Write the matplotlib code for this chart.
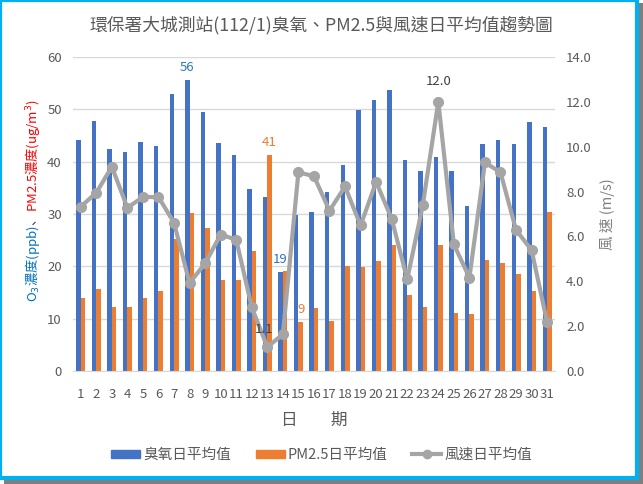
import matplotlib
matplotlib.use('Agg')
import matplotlib.pyplot as plt
from matplotlib.patches import Rectangle
from matplotlib.lines import Line2D
import numpy as np

plt.rcParams['font.family'] = ['Noto Sans CJK TC', 'DejaVu Sans']

days = list(range(1, 32))
o3 = [44.1, 47.7, 42.4, 41.8, 43.8, 43.1, 53.0, 55.6, 49.5, 43.6,
      41.2, 34.7, 33.2, 18.9, 29.8, 30.3, 34.2, 39.4, 49.8, 51.8,
      53.7, 40.3, 38.2, 41.0, 38.3, 31.6, 43.4, 44.2, 43.3, 47.6, 46.7]
pm25 = [14.0, 15.6, 12.3, 12.2, 14.0, 15.2, 25.3, 30.2, 27.4, 17.3,
        17.3, 22.9, 41.2, 19.2, 9.3, 12.1, 9.5, 20.0, 19.8, 21.1,
        24.1, 14.6, 12.3, 24.0, 11.1, 10.9, 21.3, 20.7, 18.5, 15.3, 30.3]
wind = [7.33, 7.95, 9.11, 7.28, 7.76, 7.76, 6.61, 3.92, 4.80, 6.08,
        5.86, 2.84, 1.07, 1.63, 8.86, 8.69, 7.15, 8.23, 6.49, 8.43,
        6.79, 4.09, 7.39, 12.01, 5.65, 4.16, 9.30, 8.86, 6.29, 5.39, 2.17]

BLUE = '#4472C4'
ORANGE = '#ED7D31'
GRAY = '#A5A5A5'
TXT = '#595959'

fig = plt.figure(figsize=(6.43, 4.84), dpi=100)
fig.patch.set_facecolor('white')

# frame with shadow
fig.patches.append(Rectangle((0.006, 0.0), 0.994, 0.994, transform=fig.transFigure,
                             facecolor='#7F7F7F', edgecolor='none', zorder=0))
fig.patches.append(Rectangle((0.0, 0.012), 0.99, 0.988, transform=fig.transFigure,
                             facecolor='white', edgecolor='#00B0F0', lw=3, zorder=1))

ax = fig.add_axes([0.1135, 0.2335, 0.7495, 0.6485])
ax.set_zorder(2)
ax.patch.set_visible(False)
x = np.array(days)
w = 0.29
ax.bar(x - w / 2, o3, w, color=BLUE, label='臭氧日平均值', zorder=2)
ax.bar(x + w / 2, pm25, w, color=ORANGE, label='PM2.5日平均值', zorder=2)
ax.set_xlim(0.5, 31.5)
ax.set_ylim(0, 60)
ax.set_yticks(range(0, 61, 10))
ax.set_xticks(days)
ax.grid(axis='y', color='#D9D9D9', lw=1, zorder=0)
for s in ['top', 'right', 'left']:
    ax.spines[s].set_visible(False)
ax.spines['bottom'].set_color('#D9D9D9')
ax.tick_params(length=0, labelsize=9.5, colors=TXT, pad=8)
ax.tick_params(axis='x', pad=12)
ax.set_xlabel('日　　期', fontsize=12, color=TXT, labelpad=8)

ax2 = ax.twinx()
ax2.plot(x, wind, color=GRAY, lw=3, marker='o', ms=7, zorder=3, label='風速日平均值')
ax2.set_ylim(0, 14)
ax2.set_yticks(np.arange(0, 14.1, 2))
ax2.set_yticklabels([f'{v:.1f}' for v in np.arange(0, 14.1, 2)])
for s in ax2.spines.values():
    s.set_visible(False)
ax2.tick_params(length=0, labelsize=9.5, colors=TXT, pad=8)
ax2.set_ylabel('風 速 (m/s)', fontsize=10.5, color='#7F7F7F', labelpad=6)

# data labels
ax.text(8 - w / 2, o3[7] + 1.2, '56', color='#2E75B6', ha='center', va='bottom', fontsize=9.5)
ax.text(13 + w / 2, pm25[12] + 1.2, '41', color=ORANGE, ha='center', va='bottom', fontsize=9.5)
ax.text(14 - w / 2, o3[13] + 1.2, '19', color='#2E75B6', ha='center', va='bottom', fontsize=9.5)
ax.text(15 + w / 2, pm25[14] + 1.2, '9', color=ORANGE, ha='center', va='bottom', fontsize=9.5)
ax2.text(13 - 0.2, wind[12] + 0.5, '1.1', color='#404040', ha='center', va='bottom', fontsize=9.5)
ax2.text(24, wind[23] + 0.6, '12.0', color='#404040', ha='center', va='bottom', fontsize=9.5)

fig.text(0.5, 0.948, '環保署大城測站(112/1)臭氧、PM2.5與風速日平均值趨勢圖',
         ha='center', va='center', fontsize=12.8, color=TXT)

# left y label with coloured parts, centred near the plot middle
fig.canvas.draw()
r = fig.canvas.get_renderer()
parts = [('O$_3$濃度(ppb)', '#0070C0'), ('、', '#404040'), ('PM2.5濃度(ug/m$^3$)', '#FF0000')]
texts = [fig.text(0.05, 0, p, rotation=90, ha='center', va='bottom',
                  fontsize=9.5, color=c) for p, c in parts]
heights = [t.get_window_extent(r).height / fig.bbox.height for t in texts]
ypos = 0.585 - sum(heights) / 2
for t, h in zip(texts, heights):
    t.set_y(ypos)
    ypos += h

handles = [Rectangle((0, 0), 1, 1, color=BLUE), Rectangle((0, 0), 1, 1, color=ORANGE),
           Line2D([], [], color=GRAY, lw=3, marker='o', ms=6)]
fig.legend(handles, ['臭氧日平均值', 'PM2.5日平均值', '風速日平均值'],
           loc='center', bbox_to_anchor=(0.5, 0.06), ncol=3, frameon=False,
           fontsize=10.5, labelcolor=TXT, handlelength=2.0, handleheight=0.5,
           columnspacing=1.7, handletextpad=0.2)

fig.savefig('out.png', dpi=100, facecolor='white')
